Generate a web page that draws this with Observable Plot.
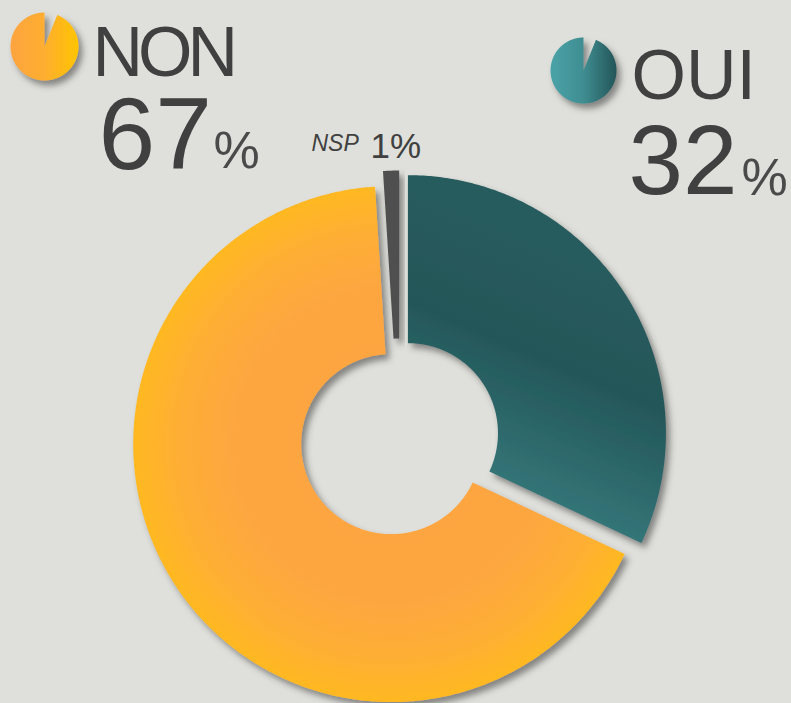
<!DOCTYPE html>
<html>
<head>
<meta charset="utf-8">
<script src="https://cdn.jsdelivr.net/npm/d3@7"></script>
<script src="https://cdn.jsdelivr.net/npm/@observablehq/plot@0.6"></script>
<style>
  html, body { margin: 0; padding: 0; background: #dfe0db; }
  #chart svg { display: block; }
</style>
</head>
<body>
<div id="chart"></div>
<script>
// ---- data ----
const labels = ["OUI", "NON", "NSP"];
const values = [32, 67, 1];
const legendLabels = ["NON", "OUI"];
const legendValues = [67, 32];
const otherLabel = "NSP";
const otherValue = 1;

// ---- layout ----
const W = 791, H = 703;
const cx = 399, cy = 438, R = 258, r = 90, explode = 10;
const deg = Math.PI / 180;

const pie = d3.pie().sort(null).value(d => d)(values);

function arcPoints(a0, a1, rin, rout, ox, oy, key) {
  const pts = [];
  const n = Math.max(2, Math.ceil((a1 - a0) / (0.5 * deg)));
  for (let i = 0; i <= n; i++) {
    const a = a0 + (a1 - a0) * i / n;
    pts.push({key, x: ox + rout * Math.sin(a), y: oy - rout * Math.cos(a)});
  }
  for (let i = n; i >= 0; i--) {
    const a = a0 + (a1 - a0) * i / n;
    pts.push({key, x: ox + rin * Math.sin(a), y: oy - rin * Math.cos(a)});
  }
  return pts;
}

const sliceCenters = {};
const slices = pie.map((p, i) => {
  const mid = (p.startAngle + p.endAngle) / 2;
  const ox = cx + explode * Math.sin(mid);
  const oy = cy - explode * Math.cos(mid);
  sliceCenters[labels[i]] = [ox, oy];
  return {label: labels[i], pts: arcPoints(p.startAngle, p.endAngle, r, R, ox, oy, labels[i])};
});

const fills = {OUI: "url(#gradOui)", NON: "url(#gradNon)", NSP: "#505050"};

// legend icons
const iconGap = 22 * deg;
const iconSpec = {NON: {x: 44, y: 46, r: 34}, OUI: {x: 583, y: 70, r: 33}};
const iconPts = legendLabels.map(l =>
  arcPoints(iconGap, 2 * Math.PI, 0, iconSpec[l].r, iconSpec[l].x, iconSpec[l].y, "icon" + l));

const font = "'Liberation Sans', Arial, sans-serif";
const ink = "#404040";

const order = ["NON", "OUI", "NSP"];
const sliceMarks = order.map(l => {
  const s = slices.find(d => d.label === l);
  return Plot.line(s.pts, {x: "x", y: "y", z: "key", curve: "linear-closed", fill: fills[l], stroke: "none"});
});

const plot = Plot.plot({
  width: W, height: H, margin: 0,
  x: {domain: [0, W], range: [0, W], axis: null},
  y: {domain: [0, H], range: [0, H], axis: null},
  style: {background: "transparent", overflow: "visible"},
  marks: [
    ...sliceMarks,
    Plot.line(iconPts[0], {x: "x", y: "y", z: "key", curve: "linear-closed", fill: "url(#gradIconNon)", stroke: "none"}),
    Plot.line(iconPts[1], {x: "x", y: "y", z: "key", curve: "linear-closed", fill: "url(#gradIconOui)", stroke: "none"}),
    // legend titles
    Plot.text([legendLabels[0]], {x: () => 92, y: () => 75, text: d => d, textAnchor: "start", lineAnchor: "bottom", fontSize: 70, fontFamily: font, fill: ink}),
    Plot.text([legendLabels[1]], {x: () => 631, y: () => 98, text: d => d, textAnchor: "start", lineAnchor: "bottom", fontSize: 70, fontFamily: font, fill: ink}),
    // big numbers
    Plot.text([legendValues[0]], {x: () => 98, y: () => 168, text: d => String(d), textAnchor: "start", lineAnchor: "bottom", fontSize: 102, fontFamily: font, fill: ink}),
    Plot.text([legendValues[1]], {x: () => 628, y: () => 193, text: d => String(d), textAnchor: "start", lineAnchor: "bottom", fontSize: 98, fontFamily: font, fill: ink}),
    Plot.text(["%"], {x: () => 213, y: () => 167, text: d => d, textAnchor: "start", lineAnchor: "bottom", fontSize: 52, fontFamily: font, fill: "#4a4a4a"}),
    Plot.text(["%"], {x: () => 741, y: () => 194, text: d => d, textAnchor: "start", lineAnchor: "bottom", fontSize: 52, fontFamily: font, fill: "#4a4a4a"}),
    // NSP label
    Plot.text([otherLabel], {x: () => 311, y: () => 150, text: d => d, textAnchor: "start", lineAnchor: "bottom", fontSize: 23, fontStyle: "italic", fontFamily: font, fill: ink}),
    Plot.text([otherValue], {x: () => 370, y: () => 157, text: d => d + "%", textAnchor: "start", lineAnchor: "bottom", fontSize: 35, fontFamily: font, fill: ink})
  ]
});

// ---- gradients & shadows ----
const svg = d3.select(plot);
const defs = svg.insert("defs", ":first-child");

const [nx, ny] = sliceCenters.NON;
const gNon = defs.append("radialGradient").attr("id", "gradNon")
  .attr("gradientUnits", "userSpaceOnUse").attr("cx", nx).attr("cy", ny).attr("r", R);
[[0, "#fda441"], [0.6, "#fda641"], [0.82, "#feae35"], [1, "#ffb822"]].forEach(([o, c]) =>
  gNon.append("stop").attr("offset", o).attr("stop-color", c));

const gOui = defs.append("linearGradient").attr("id", "gradOui")
  .attr("gradientUnits", "userSpaceOnUse").attr("x1", 600).attr("y1", 260).attr("x2", 470).attr("y2", 560);
[[0, "#265b5d"], [0.35, "#245759"], [0.8, "#36797c"], [1, "#3d8588"]].forEach(([o, c]) =>
  gOui.append("stop").attr("offset", o).attr("stop-color", c));

const gIN = defs.append("linearGradient").attr("id", "gradIconNon").attr("x1", 0).attr("y1", 0).attr("x2", 1).attr("y2", 0);
[[0, "#fda440"], [0.5, "#feae30"], [1, "#ffc400"]].forEach(([o, c]) =>
  gIN.append("stop").attr("offset", o).attr("stop-color", c));

const gIO = defs.append("linearGradient").attr("id", "gradIconOui").attr("x1", 0).attr("y1", 0).attr("x2", 1).attr("y2", 0);
[[0, "#4aa3a8"], [0.5, "#3f8d91"], [1, "#235558"]].forEach(([o, c]) =>
  gIO.append("stop").attr("offset", o).attr("stop-color", c));

const filt = defs.append("filter").attr("id", "shadow")
  .attr("x", "-20%").attr("y", "-20%").attr("width", "150%").attr("height", "150%");
filt.append("feDropShadow").attr("dx", 4).attr("dy", 5).attr("stdDeviation", 3)
  .attr("flood-color", "#3a3a3a").attr("flood-opacity", 0.55);

svg.selectAll('g[aria-label="line"]').attr("filter", "url(#shadow)");
svg.selectAll("text").filter(function() { return this.textContent === "NON"; })
  .attr("letter-spacing", "-5px");

document.getElementById("chart").appendChild(plot);
</script>
</body>
</html>
